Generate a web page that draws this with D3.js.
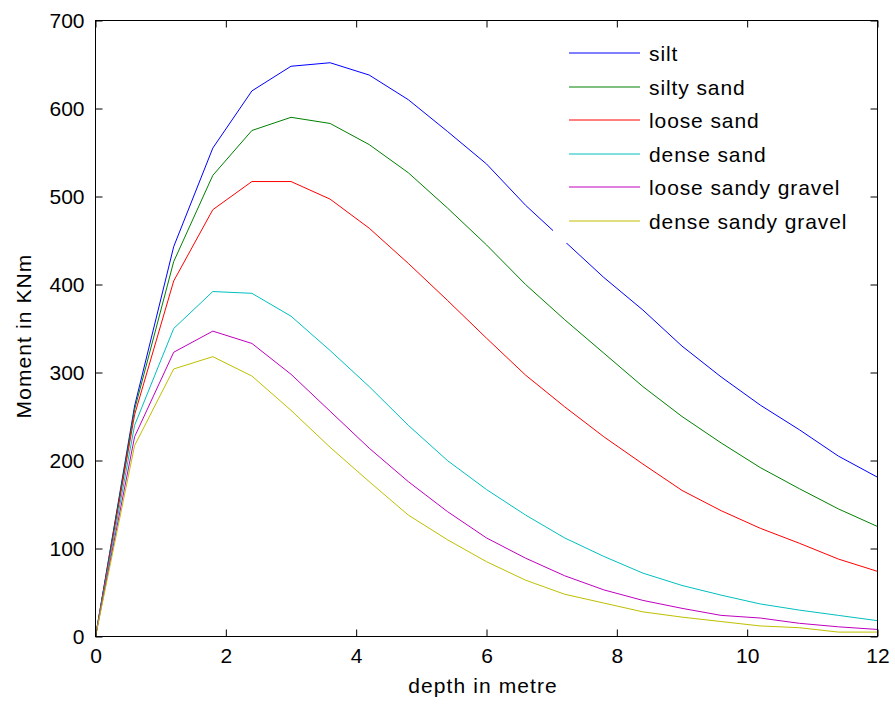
<!DOCTYPE html>
<html>
<head>
<meta charset="utf-8">
<script src="https://d3js.org/d3.v7.min.js"></script>
<style>
  body { margin: 0; background: #fff; }
  text { font-family: "Liberation Sans", Arial, sans-serif; fill: #000; }
</style>
</head>
<body>
<svg id="chart" width="895" height="705"></svg>
<script>
// depth (m) and bending moment (KNm) per soil type
var depth = [0, 0.6, 1.2, 1.8, 2.4, 3.0, 3.6, 4.2, 4.8, 5.4, 6.0, 6.6, 7.2, 7.8, 8.4, 9.0, 9.6, 10.2, 10.8, 11.4, 12.0];
var silt = [0, 262, 443, 555, 620, 648, 652, 638, 610, 574, 537, 490, 449, 408, 371, 330, 295, 263, 235, 205, 181];
var siltySand = [0, 258, 426, 524, 575, 590, 583, 559, 527, 487, 445, 400, 360, 322, 284, 250, 220, 192, 168, 145, 125];
var looseSand = [0, 252, 404, 485, 517, 517, 497, 464, 424, 382, 339, 297, 261, 227, 196, 166, 143, 123, 106, 88, 74];
var denseSand = [0, 240, 350, 392, 390, 364, 325, 284, 240, 200, 167, 138, 112, 91, 72, 58, 47, 37, 30, 24, 18];
var looseSandyGravel = [0, 227, 323, 347, 333, 298, 256, 214, 176, 142, 112, 89, 69, 53, 41, 32, 24, 21, 15, 11, 8];
var denseSandyGravel = [0, 217, 304, 318, 296, 257, 215, 176, 138, 110, 85, 64, 48, 38, 28, 22, 17, 12, 10, 5, 5];

var seriesNames = ["silt", "silty sand", "loose sand", "dense sand", "loose sandy gravel", "dense sandy gravel"];
var seriesValues = [silt, siltySand, looseSand, denseSand, looseSandyGravel, denseSandyGravel];
var seriesColors = ["#0000ff", "#008000", "#ff0000", "#00bfbf", "#bf00bf", "#bfbf00"];

var xTicks = [0, 2, 4, 6, 8, 10, 12];
var yTicks = [0, 100, 200, 300, 400, 500, 600, 700];

var svg = d3.select("#chart");
var plotLeft = 95.5, plotRight = 877.5, plotTop = 20.5, plotBottom = 636.5;

var x = d3.scaleLinear().domain([0, 12]).range([plotLeft, plotRight]);
var y = d3.scaleLinear().domain([0, 700]).range([plotBottom, plotTop]);

// curves
var line = d3.line()
  .x(function (d, i) { return x(depth[i]); })
  .y(function (d) { return y(d); });

svg.append("g").selectAll("path")
  .data(seriesValues)
  .enter()
  .append("path")
  .attr("d", line)
  .attr("fill", "none")
  .attr("stroke", function (d, i) { return seriesColors[i]; })
  .attr("stroke-width", 1);

// axes with inward ticks on all four sides
var fontTick = 21;
svg.append("g")
  .attr("transform", "translate(0," + plotBottom + ")")
  .call(d3.axisBottom(x).tickValues(xTicks).tickSize(-7).tickPadding(12).tickSizeOuter(0));
svg.append("g")
  .attr("transform", "translate(0," + plotTop + ")")
  .call(d3.axisTop(x).tickValues(xTicks).tickSize(-7).tickFormat("").tickSizeOuter(0));
svg.append("g")
  .attr("transform", "translate(" + plotLeft + ",0)")
  .call(d3.axisLeft(y).tickValues(yTicks).tickSize(-7).tickPadding(11).tickSizeOuter(0));
svg.append("g")
  .attr("transform", "translate(" + plotRight + ",0)")
  .call(d3.axisRight(y).tickValues(yTicks).tickSize(-7).tickFormat("").tickSizeOuter(0));

svg.selectAll(".domain").remove();
svg.selectAll(".tick line").attr("stroke", "#000");
svg.selectAll(".tick text")
  .style("font-family", "'Liberation Sans', Arial, sans-serif")
  .style("font-size", fontTick + "px")
  .attr("fill", "#000");

svg.append("rect")
  .attr("x", plotLeft).attr("y", plotTop)
  .attr("width", plotRight - plotLeft).attr("height", plotBottom - plotTop)
  .attr("fill", "none").attr("stroke", "#000").attr("stroke-width", 1);

// axis titles
svg.append("text")
  .attr("x", 483)
  .attr("y", 693)
  .attr("text-anchor", "middle")
  .style("font-size", "21px")
  .style("letter-spacing", "1.1px")
  .text("depth in metre");

svg.append("text")
  .attr("transform", "translate(31,336) rotate(-90)")
  .attr("text-anchor", "middle")
  .style("font-size", "21px")
  .style("letter-spacing", "1.1px")
  .text("Moment in KNm");

// legend (white box, no border)
var legend = svg.append("g");
legend.append("rect")
  .attr("x", 553).attr("y", 31)
  .attr("width", 310).attr("height", 212)
  .attr("fill", "#fff");

var legendRowY = [53, 87, 120, 154, 187, 221];
var item = legend.selectAll("g.item")
  .data(seriesNames)
  .enter()
  .append("g")
  .attr("class", "item")
  .attr("transform", function (d, i) { return "translate(0," + legendRowY[i] + ")"; });

item.append("line")
  .attr("x1", 569).attr("x2", 640)
  .attr("y1", 0).attr("y2", 0)
  .attr("stroke", function (d, i) { return seriesColors[i]; })
  .attr("stroke-width", 1);

item.append("text")
  .attr("x", 649)
  .attr("y", 8)
  .style("font-size", "21px")
  .style("letter-spacing", "0.9px")
  .text(function (d) { return d; });
</script>
</body>
</html>
